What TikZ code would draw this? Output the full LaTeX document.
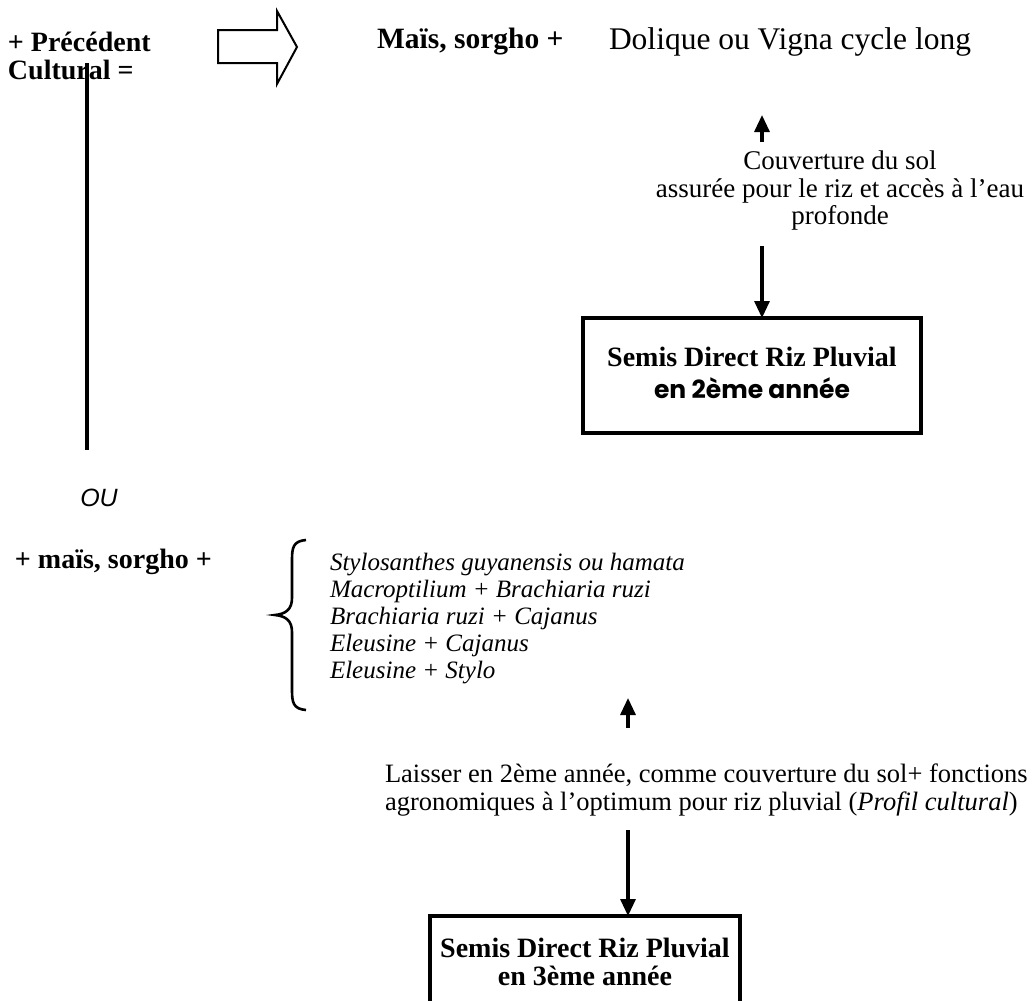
\documentclass[tikz,border=0pt]{standalone}
\usepackage{fontspec}
\setmainfont{Liberation Serif}
\setsansfont{Liberation Sans}
\newfontfamily\comicfont{Poppins}
\usetikzlibrary{arrows.meta}
\newcommand{\fsz}[1]{\fontsize{#1}{27.5}\selectfont}
\begin{document}
\begin{tikzpicture}[x=1pt,y=-1pt,
  every node/.style={inner sep=0pt,outer sep=0pt,font=\fsz{25}},
  txt/.style={anchor=west,align=left},
  arr/.style={line width=3.2pt,-{Triangle[length=17pt,width=15pt]}},
  boxline/.style={line width=3.2pt},
  plain/.style={line width=3.2pt}]
\useasboundingbox (0,0) rectangle (1034,1001);
% top row
\node[txt,font=\fsz{28}\bfseries] (prec) at (8,56) {+ Précédent\\Cultural =};
\draw[line width=2pt,line join=miter] (218,30) -- (277,30) -- (277,11) -- (297,47) -- (277,84) -- (277,63) -- (218,63) -- cycle;
\node[txt,font=\fsz{29.5}\bfseries] (mais) at (377,42) {Maïs, sorgho +};
\node[txt,font=\fsz{31.5}] (dol) at (609,42) {Dolique ou Vigna cycle long};
\node[align=center,font=\fsz{27}] (couv) at (840,191) {Couverture du sol\\assurée pour le riz et accès à l’eau\\profonde};
\coordinate (ua1) at (762,142);
\coordinate (ua1t) at (762,115);
\draw[arr] (ua1) -- (ua1t);
\coordinate (da1) at (762,246);
\draw[boxline] (583,318) rectangle (921,433);
\node[align=center,font=\fsz{28}] (box1) at (752,373) {\bfseries Semis Direct Riz Pluvial\\[4pt]{\fontsize{25}{27.5}\comicfont\bfseries en 2ème année}};
\coordinate (da1t) at (762,318);
\draw[arr] (da1) -- (da1t);
% vertical line
\coordinate (vl1) at (87,63);
\coordinate (vl2) at (87,450);
\draw[plain] (vl1) -- (vl2);
\node[font=\fsz{25}\sffamily\itshape] (ou) at (99,498) {OU};
% second part
\node[txt,font=\fsz{28}\bfseries] (mais2) at (15,562) {+ maïs, sorgho +};
\draw[line width=2.6pt] (306,540) .. controls (293,541) and (292,548) .. (292,560) -- (292,598) .. controls (292,610) and (285,614) .. (275,615) .. controls (285,616) and (292,620) .. (292,632) -- (292,690) .. controls (292,702) and (293,709) .. (306,710);
\node[txt,font=\fontsize{25}{27}\selectfont\itshape] (list) at (330,619) {Stylosanthes guyanensis ou hamata\\Macroptilium + Brachiaria ruzi\\Brachiaria ruzi + Cajanus\\Eleusine + Cajanus\\Eleusine + Stylo};
\coordinate (ua2) at (628,728);
\coordinate (ua2t) at (628,698);
\draw[arr] (ua2) -- (ua2t);
\node[txt,font=\fsz{26.5}] (laisser) at (385,790) {Laisser en 2ème année, comme couverture du sol+ fonctions\\agronomiques à l’optimum pour riz pluvial (\textit{Profil cultural})};
\coordinate (da2) at (628,830);
\coordinate (da2t) at (628,916);
\draw[boxline] (430,1030) -- (430,916) -- (740,916) -- (740,1030);
\node[align=center,font=\fsz{28}\bfseries] (box2) at (585,962) {Semis Direct Riz Pluvial\\en 3ème année};
\draw[arr] (da2) -- (da2t);
\end{tikzpicture}
\end{document}
